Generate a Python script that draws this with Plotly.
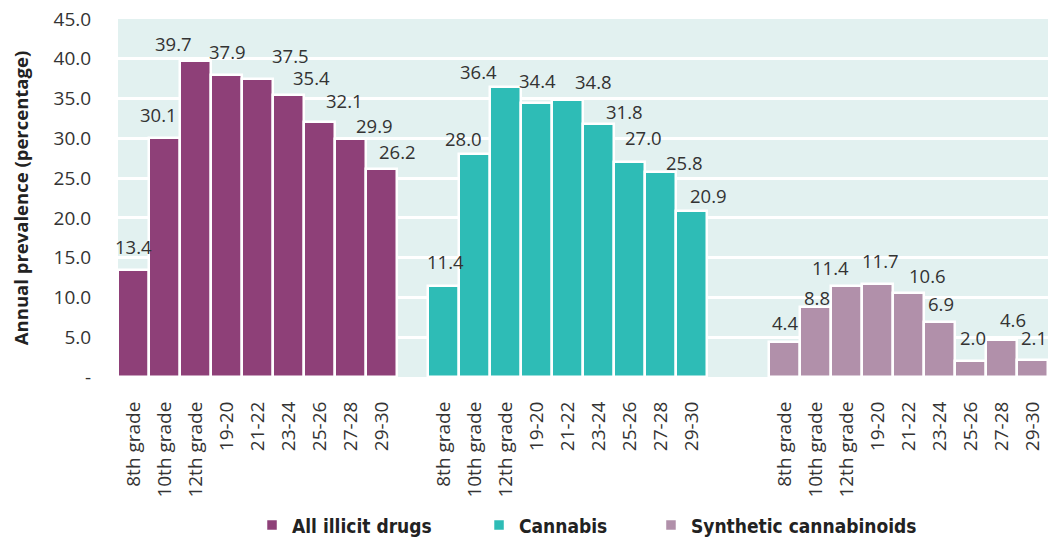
import plotly.graph_objects as go

categories = ["8th grade", "10th grade", "12th grade", "19-20", "21-22", "23-24", "25-26", "27-28", "29-30"]
series_names = ["All illicit drugs", "Cannabis", "Synthetic cannabinoids"]
all_illicit = [13.4, 30.1, 39.7, 37.9, 37.5, 35.4, 32.1, 29.9, 26.2]
cannabis = [11.4, 28.0, 36.4, 34.4, 34.8, 31.8, 27.0, 25.8, 20.9]
synthetic = [4.4, 8.8, 11.4, 11.7, 10.6, 6.9, 2.0, 4.6, 2.1]
y_tick_vals = [0, 5, 10, 15, 20, 25, 30, 35, 40, 45]
y_tick_text = ["-", "5.0", "10.0", "15.0", "20.0", "25.0", "30.0", "35.0", "40.0", "45.0"]

# style: per-label pixel nudges (as placed in the original, to avoid collisions)
label_dx = [
    [0, -6, -22, 1, 33, 23, 25, 24, 16],
    [2, -11, -27, 1, 26, 26, 14, 24, 17],
    [0, 1, -16, 3, 19, 1, 2, 11, 1],
]
label_dy = [
    [24, 23, 18, 24, 23, 18, 21, 14, 17],
    [25, 16, 16, 23, 19, 13, 25, 9, 15],
    [20, 9, 19, 23, 17, 19, 24, 21, 23],
]
legend_x = [0.1441, 0.3882, 0.5731]  # legend entry positions (paper fraction)

colors = ["#8E4078", "#2EBCB6", "#B190AA"]
gaps_before = [0, 1, 2]  # empty slots before each group
legend_ids = ["legend", "legend2", "legend3"]

FONT = "Open Sans"
LEGEND_FONT = dict(family="DejaVu Sans Condensed, Roboto, Open Sans", size=19,
                   color="#222222", weight="bold")
fig = go.Figure()
tickvals, ticktext = [], []
annotations = []
legends = {}
start = 0
for k, (name, vals, col, gap) in enumerate(zip(series_names, [all_illicit, cannabis, synthetic], colors, gaps_before)):
    start += gap
    xs = [start + i for i in range(len(categories))]
    tickvals += xs
    ticktext += categories
    fig.add_trace(go.Bar(
        x=xs, y=vals, name=name, legend=legend_ids[k],
        marker=dict(color=col, line=dict(color="white", width=2.5)),
    ))
    legends[legend_ids[k]] = dict(orientation="h", x=legend_x[k], xanchor="left",
                                  y=-0.361, yanchor="top", font=LEGEND_FONT,
                                  itemwidth=30, bgcolor="rgba(0,0,0,0)")
    for i, (x, v) in enumerate(zip(xs, vals)):
        annotations.append(dict(x=x, y=v, text=f"{v:.1f}", showarrow=False,
                                yanchor="middle", xanchor="center",
                                yshift=label_dy[k][i], xshift=label_dx[k][i],
                                font=dict(family=FONT, size=18.5, color="#333333")))
    start += len(categories)

fig.update_layout(
    width=1048, height=541,
    margin=dict(l=118, r=0, t=19, b=164, autoexpand=False),
    plot_bgcolor="#E2F1F0", paper_bgcolor="white",
    bargap=0, barmode="overlay",
    font=dict(family=FONT, color="#333333"),
    showlegend=True,
    annotations=annotations,
    **legends,
)
fig.update_xaxes(range=[-0.5, start - 0.5], tickvals=tickvals, ticktext=ticktext,
                 tickangle=-90, tickfont=dict(family=FONT, size=19, color="#333333"),
                 showgrid=False, zeroline=False, ticks="outside", ticklen=16,
                 tickcolor="rgba(0,0,0,0)")
fig.update_yaxes(range=[0, 45], tickvals=y_tick_vals, ticktext=y_tick_text,
                 tickfont=dict(family=FONT, size=19, color="#333333"),
                 ticks="outside", ticklen=22, tickcolor="rgba(0,0,0,0)",
                 gridcolor="white", gridwidth=3, zeroline=False,
                 title=dict(text="<b>Annual prevalence (percentage)</b>",
                            font=dict(family=FONT, size=18.5, color="#222222"), standoff=20))

fig.write_html("out.html", config={"displayModeBar": False},
               post_script="document.body.style.margin='0';document.body.style.overflow='hidden';")
